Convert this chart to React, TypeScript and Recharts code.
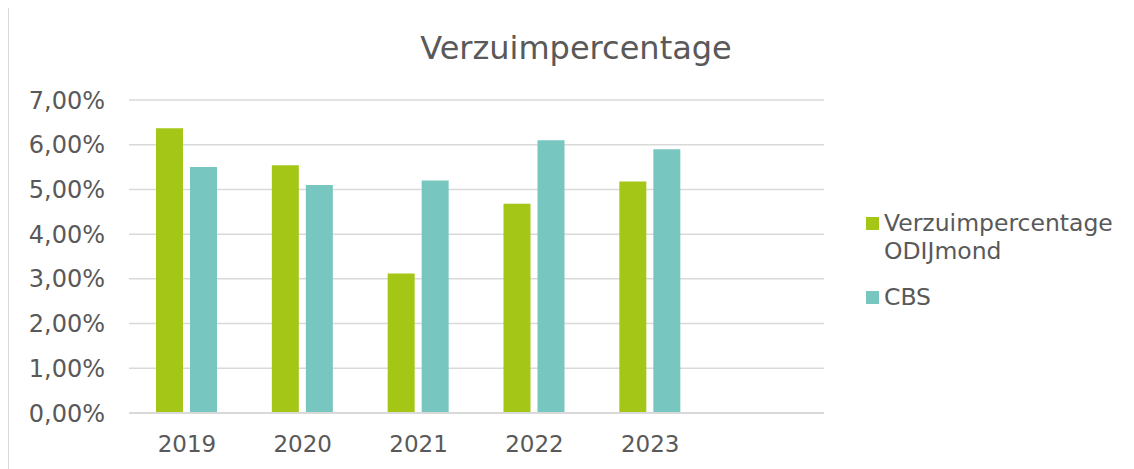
import React from 'react';
import { BarChart, Bar, XAxis, YAxis, CartesianGrid } from 'recharts';

const years = ['2019', '2020', '2021', '2022', '2023', ''];
const odijmond = [6.37, 5.54, 3.12, 4.68, 5.18, null];
const cbs = [5.5, 5.1, 5.2, 6.1, 5.9, null];
const yTicks = [0, 1, 2, 3, 4, 5, 6, 7];

const data = years.map((year, i) => ({ year, odijmond: odijmond[i], cbs: cbs[i] }));

const FONT = '"DejaVu Sans", Verdana, sans-serif';
const TEXT = '#595959';
const GREEN = '#A3C617';
const TEAL = '#78C6C0';

const fmt = (v: number) => v.toFixed(2).replace('.', ',') + '%';

// legend drawn as html so it doesn't eat into the plot width
const LegendBox = () => (
  <div style={{ position: 'absolute', left: 857, top: 201, fontFamily: FONT, fontSize: 23.5, color: TEXT, lineHeight: '28px' }}>
    <div style={{ display: 'flex', alignItems: 'flex-start' }}>
      <span style={{ width: 13, height: 13, background: GREEN, marginTop: 8, marginRight: 5, flex: 'none' }} />
      <span>Verzuimpercentage<br />ODIJmond</span>
    </div>
    <div style={{ display: 'flex', alignItems: 'flex-start', marginTop: 18 }}>
      <span style={{ width: 13, height: 13, background: TEAL, marginTop: 8, marginRight: 5, flex: 'none' }} />
      <span>CBS</span>
    </div>
  </div>
);

export default function App() {
  return (
    <div style={{ position: 'relative', width: 1126, height: 462, marginTop: -1, border: '1px solid #d9d9d9', borderRight: 'none', borderBottom: 'none', boxSizing: 'border-box', background: '#fff' }}>
      <div style={{ position: 'absolute', left: 0, width: 1134, top: 21, textAlign: 'center', fontFamily: FONT, fontSize: 32, color: TEXT }}>
        Verzuimpercentage
      </div>
      <BarChart
        width={1125}
        height={461}
        data={data}
        margin={{ top: 92, right: 310, bottom: 14, left: 0 }}
        barSize={27}
        barGap={7}
      >
        <CartesianGrid vertical={false} stroke="#d9d9d9" strokeWidth={1.5} />
        <XAxis
          dataKey="year"
          axisLine={{ stroke: '#d9d9d9', strokeWidth: 2 }}
          tickLine={false}
          tickMargin={17}
          height={42}
          tick={{ fill: TEXT, fontSize: 23, fontFamily: FONT }}
        />
        <YAxis
          domain={[0, 7]}
          ticks={yTicks}
          tickFormatter={fmt}
          axisLine={false}
          tickLine={false}
          tickMargin={18}
          width={120}
          tick={{ fill: TEXT, fontSize: 24, fontFamily: FONT }}
        />
        <Bar dataKey="odijmond" name="Verzuimpercentage ODIJmond" fill={GREEN} isAnimationActive={false} />
        <Bar dataKey="cbs" name="CBS" fill={TEAL} isAnimationActive={false} />
      </BarChart>
      <LegendBox />
    </div>
  );
}
